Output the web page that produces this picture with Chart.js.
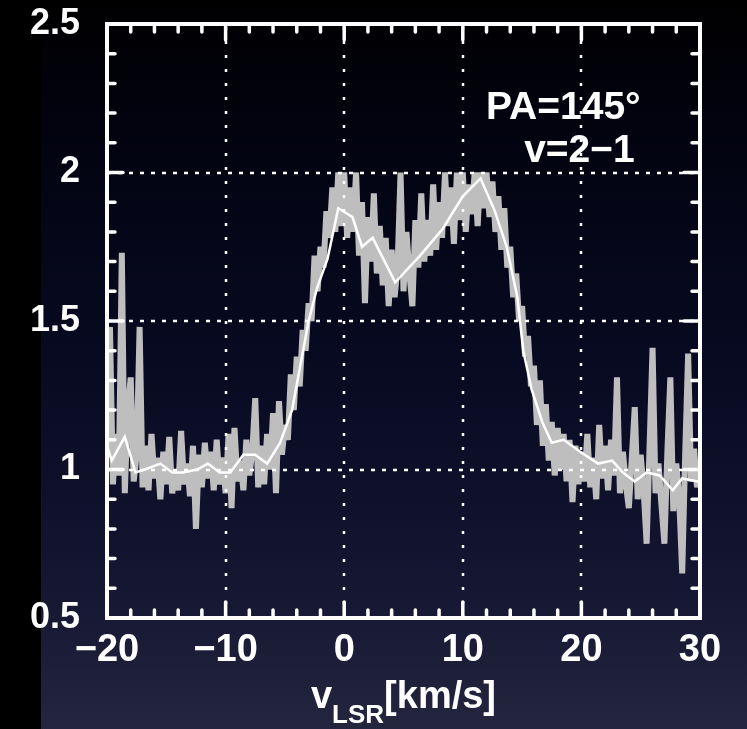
<!DOCTYPE html>
<html>
<head>
<meta charset="utf-8">
<script src="https://cdn.jsdelivr.net/npm/chart.js@4.4.0/dist/chart.umd.min.js"></script>
<style>
  html, body { margin: 0; padding: 0; background: #000; }
  canvas { display: block; }
</style>
</head>
<body>
<canvas id="spectrum" width="747" height="729"></canvas>
<script>
// channel grid of the raw spectrum (km/s)
const vStart = -20;
const vStep = 0.25;

// raw spectrum (grey), one value per channel, -20 .. 30 km/s
const rawT = [
  1.05, 1.48, 0.95, 1.12, 0.98, 1.73, 0.92, 1.20, 1.31, 0.96, 1.05, 1.48, 0.94,
  1.08, 0.93, 1.12, 0.97, 1.04, 0.90, 1.06, 0.95, 1.11, 0.92, 1.00, 0.93, 1.13, 0.95, 1.02, 0.91, 1.08, 0.80, 1.05, 0.94,
  1.09, 0.97, 1.06, 0.93, 1.10, 0.95, 1.04, 0.92, 1.12, 0.87, 1.14, 0.96, 1.03, 0.93, 1.10, 0.98, 1.06, 1.24, 0.94, 1.08, 0.95, 1.12, 1.00, 1.19,
  0.92, 1.23, 1.05, 1.15, 1.10, 1.32, 1.20, 1.38, 1.28, 1.47, 1.40, 1.56, 1.50, 1.72, 1.60, 1.75, 1.68, 1.87, 1.78, 1.95, 1.80, 2.00, 1.82, 2.00,
  1.78, 1.95, 1.80, 2.00, 1.72, 1.90, 1.56, 1.85, 1.70, 1.93, 1.66, 1.82, 1.62, 1.78, 1.55, 1.74, 1.58, 1.68, 2.00, 1.60,
  1.80, 1.66, 1.55, 1.84, 1.68, 1.93, 1.70, 1.84, 1.72, 1.96, 1.74, 1.90, 1.78, 2.00, 1.82, 1.95, 1.76, 2.00, 1.84, 2.00,
  1.80, 1.96, 1.86, 2.00, 1.82, 2.00, 1.88, 2.00, 1.85, 1.97, 1.80, 1.92, 1.74, 1.88, 1.68, 1.75, 1.58, 1.66, 1.50, 1.55,
  1.38, 1.45, 1.28, 1.35, 1.15, 1.30, 1.08, 1.22, 1.03, 1.16, 0.98, 1.14, 1.00, 1.12, 0.96, 1.10, 0.89, 1.08, 0.95, 1.06,
  0.96, 1.12, 0.94, 1.04, 0.90, 1.15, 0.97, 1.08, 0.93, 1.10, 0.98, 1.31, 0.92, 1.06, 0.95, 0.87, 1.04, 1.21, 0.90, 1.05,
  0.93, 0.75, 1.08, 1.41, 0.92, 1.02, 0.88, 0.75, 1.06, 1.31, 0.86, 1.02, 0.90, 0.65, 1.05, 1.39, 0.96, 1.07, 0.94, 1.00
];

// smoothed spectrum (white)
const smoothV = [-20, -19.6, -18.5, -17.6, -16.8, -15.5, -14.5, -13.6, -12.4, -11.5, -10.5, -9.6, -8.5, -7.5, -6.5,
  -5.4, -4.4, -3.7, -3.0, -2.3, -1.4, -0.5, 0.7, 1.5, 2.4, 4.3, 6.4, 8.3, 10.0, 11.5, 12.7, 13.7, 14.6, 15.1, 15.8,
  16.7, 17.5, 18.5, 19.9, 21.4, 22.6, 23.5, 24.5, 25.5, 26.6, 27.7, 28.5, 29.8, 30];
const smoothT = [1.08, 1.03, 1.11, 0.99, 1.00, 1.02, 0.99, 0.99, 1.00, 1.02, 0.99, 0.99, 1.05, 1.05, 1.02,
  1.09, 1.20, 1.35, 1.50, 1.61, 1.71, 1.88, 1.85, 1.75, 1.78, 1.63, 1.72, 1.81, 1.92, 1.98, 1.87, 1.75, 1.58, 1.40, 1.27,
  1.16, 1.09, 1.10, 1.06, 1.02, 1.03, 0.99, 0.96, 0.99, 0.98, 0.93, 0.97, 0.96, 0.96];

const xTicks = [-20, -10, 0, 10, 20, 30];
const yTicks = [0.5, 1, 1.5, 2, 2.5];

const rawV = rawT.map((t, i) => vStart + i * vStep);

const FONT = 'Liberation Sans, Arial, sans-serif';

const frame = {
  id: 'frame',
  beforeDraw(chart) {
    const { ctx, width, height } = chart;
    ctx.save();
    ctx.fillStyle = '#000';
    ctx.fillRect(0, 0, width, height);
    const g = ctx.createLinearGradient(0, 0, 0, height);
    g.addColorStop(0, '#000000');
    g.addColorStop(0.15, '#02020e');
    g.addColorStop(0.5, '#080a22');
    g.addColorStop(0.8, '#141632');
    g.addColorStop(1, '#24263f');
    ctx.fillStyle = g;
    ctx.fillRect(41, 0, width - 41, height);
    ctx.restore();
  },
  afterDatasetDraw(chart, args) {
    if (args.index !== 0) return;
    // dotted grid, over the grey spectrum
    const { ctx, chartArea: a, scales: { x, y } } = chart;
    ctx.save();
    ctx.strokeStyle = '#fff';
    ctx.lineWidth = 2.5;
    ctx.setLineDash([3, 11]);
    xTicks.slice(1, -1).forEach(v => {
      const px = Math.round(x.getPixelForValue(v));
      ctx.beginPath(); ctx.moveTo(px, a.bottom); ctx.lineTo(px, a.top); ctx.stroke();
    });
    ctx.setLineDash([4, 7]);
    yTicks.slice(1, -1).forEach(v => {
      const py = Math.round(y.getPixelForValue(v));
      ctx.beginPath(); ctx.moveTo(a.left, py); ctx.lineTo(a.right, py); ctx.stroke();
    });
    ctx.restore();
  },
  afterDatasetsDraw(chart) {
    const { ctx, chartArea: a, scales: { x, y } } = chart;
    ctx.save();
    ctx.strokeStyle = '#fff';
    ctx.lineCap = 'round';
    ctx.lineWidth = 3.5;
    // inward ticks on all four sides
    for (let k = 0; k <= 25; k++) {
      const px = x.getPixelForValue(-20 + 2 * k);
      const len = k % 5 === 0 ? 16 : 8;
      ctx.beginPath();
      ctx.moveTo(px, a.bottom); ctx.lineTo(px, a.bottom - len);
      ctx.moveTo(px, a.top); ctx.lineTo(px, a.top + len);
      ctx.stroke();
    }
    for (let k = 0; k <= 20; k++) {
      const py = y.getPixelForValue(0.5 + 0.1 * k);
      const len = k % 5 === 0 ? 16 : 8;
      ctx.beginPath();
      ctx.moveTo(a.left, py); ctx.lineTo(a.left + len, py);
      ctx.moveTo(a.right, py); ctx.lineTo(a.right - len, py);
      ctx.stroke();
    }
    ctx.lineWidth = 4;
    ctx.lineCap = 'butt';
    ctx.strokeRect(a.left, a.top, a.right - a.left, a.bottom - a.top);

    // label in the panel
    ctx.fillStyle = '#fff';
    ctx.font = 'bold 39px ' + FONT;
    ctx.textAlign = 'right';
    ctx.textBaseline = 'alphabetic';
    ctx.fillText('PA=145\u00b0', x.getPixelForValue(25.0), y.getPixelForValue(2.18));
    ctx.fillText('v=2\u22121', x.getPixelForValue(24.5), y.getPixelForValue(2.035));

    // axis title: v_LSR[km/s]
    const big = 'bold 38px ' + FONT;
    const small = 'bold 26px ' + FONT;
    ctx.textAlign = 'left';
    ctx.font = big; const wv = ctx.measureText('v').width; const wu = ctx.measureText('[km/s]').width;
    ctx.font = small; const ws = ctx.measureText('LSR').width;
    let tx = (a.left + a.right) / 2 - (wv + ws + wu) / 2;
    const base = 708;
    ctx.font = big; ctx.fillText('v', tx, base); tx += wv;
    ctx.font = small; ctx.fillText('LSR', tx, base + 15); tx += ws;
    ctx.font = big; ctx.fillText('[km/s]', tx, base);
    ctx.restore();
  }
};

new Chart(document.getElementById('spectrum'), {
  type: 'line',
  data: {
    datasets: [
      {
        data: rawV.map((v, i) => ({ x: v, y: rawT[i] })),
        borderColor: '#bebebe',
        borderWidth: 6,
        borderJoinStyle: 'bevel',
        pointRadius: 0,
        order: 2
      },
      {
        data: smoothV.map((v, i) => ({ x: v, y: smoothT[i] })),
        borderColor: '#ffffff',
        borderWidth: 2.5,
        pointRadius: 0,
        order: 1
      }
    ]
  },
  options: {
    responsive: false,
    animation: false,
    events: [],
    layout: { padding: { top: 24, right: 47, bottom: 0, left: 0 } },
    plugins: { legend: { display: false }, tooltip: { enabled: false } },
    scales: {
      x: {
        type: 'linear', min: -20, max: 30,
        afterBuildTicks: s => { s.ticks = xTicks.map(v => ({ value: v })); },
        afterFit: s => { s.height = 111; s.paddingLeft = 0; s.paddingRight = 0; },
        grid: { display: false, drawTicks: false },
        border: { display: false },
        ticks: {
          color: '#fff', padding: 10, maxRotation: 0, autoSkip: false,
          font: { family: FONT, weight: 'bold', size: 38 },
          callback: v => String(v).replace('-', '\u2212')
        }
      },
      y: {
        type: 'linear', min: 0.5, max: 2.5,
        afterBuildTicks: s => { s.ticks = yTicks.map(v => ({ value: v })); },
        afterFit: s => { s.width = 107; s.paddingTop = 0; s.paddingBottom = 0; },
        grid: { display: false, drawTicks: false },
        border: { display: false },
        ticks: {
          color: '#fff', padding: 27, autoSkip: false,
          font: { family: FONT, weight: 'bold', size: 36 },
          callback: v => String(v)
        }
      }
    }
  },
  plugins: [frame]
});
</script>
</body>
</html>
